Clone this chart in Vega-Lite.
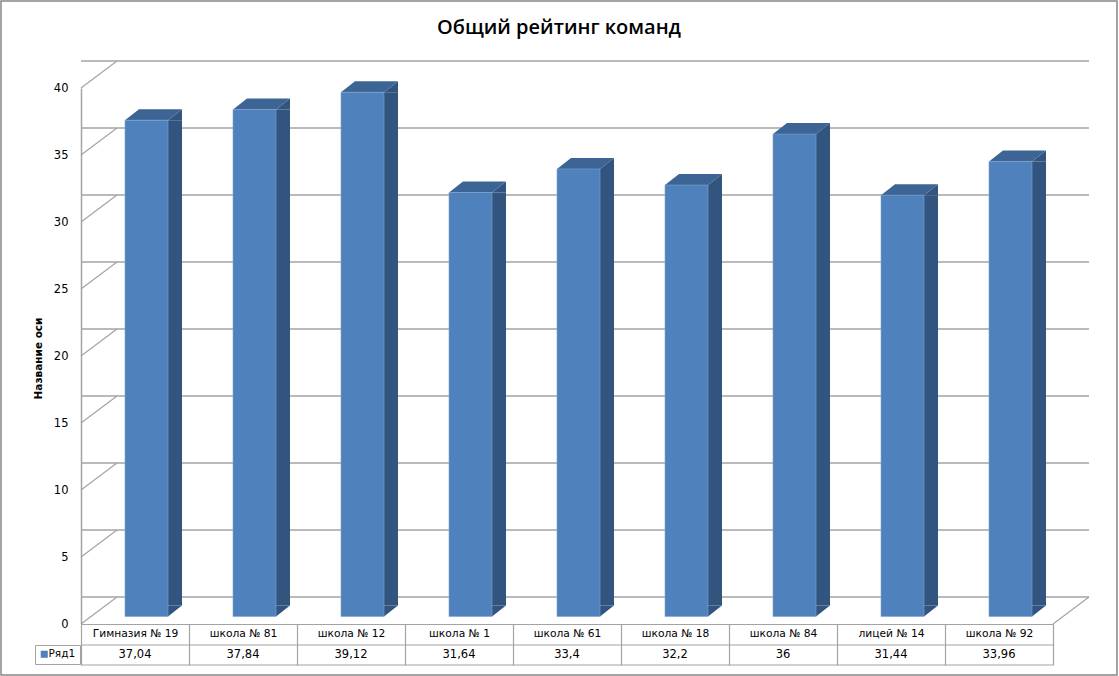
{
"$schema":"https://vega.github.io/schema/vega-lite/v6.json",
"width":972,"height":536,
"autosize":{"type":"none"},
"padding":{"left":81,"top":88,"right":66,"bottom":52},
"background":"white",
"title":{"text":"Общий рейтинг команд","font":"Open Sans","fontSize":20,"fontWeight":600,"color":"#000000","anchor":"middle","frame":"group","dx":-8,"offset":-38},
"config":{"view":{"stroke":null},"locale":{"number":{"decimal":",","thousands":" ","grouping":[3],"currency":["","₽"]}}},
"datasets":{
"teams":[
{"school":"Гимназия № 19","value":37.04,"series":"Ряд1"},
{"school":"школа № 81","value":37.84,"series":"Ряд1"},
{"school":"школа № 12","value":39.12,"series":"Ряд1"},
{"school":"школа № 1","value":31.64,"series":"Ряд1"},
{"school":"школа № 61","value":33.4,"series":"Ряд1"},
{"school":"школа № 18","value":32.2,"series":"Ряд1"},
{"school":"школа № 84","value":36,"series":"Ряд1"},
{"school":"лицей № 14","value":31.44,"series":"Ряд1"},
{"school":"школа № 92","value":33.96,"series":"Ряд1"}],
"ticks":[{"tick":0},{"tick":5},{"tick":10},{"tick":15},{"tick":20},{"tick":25},{"tick":30},{"tick":35},{"tick":40}]
},
"layer":[
{"data":{"values":[{}]},"mark":{"type":"rect","fill":null,"stroke":"#868686","strokeWidth":1.5},
 "encoding":{"x":{"value":-80},"x2":{"value":1036},"y":{"value":-87},"y2":{"value":587}}},
{"data":{"name":"ticks"},"mark":{"type":"rule","color":"#A3A3A3","strokeWidth":1.5,"xOffset":36,"yOffset":-27},
 "encoding":{"y":{"field":"tick","type":"quantitative","scale":{"domain":[0,40],"nice":false},
  "axis":{"title":"Название оси","titleFont":"DejaVu Sans","titleFontSize":10.5,"titleFontWeight":600,"titleColor":"#000000","titlePadding":10,"titleY":270,"values":[0,5,10,15,20,25,30,35,40],"grid":false,"ticks":false,"labelFont":"DejaVu Sans","labelFontSize":11.5,"labelColor":"#000000","labelPadding":13,"domainColor":"#A3A3A3","domainWidth":1.5}}}},
{"data":{"name":"ticks"},"mark":{"type":"point","shape":"M0,0L36,-27","size":4,"filled":false,"opacity":1,"stroke":"#A3A3A3","strokeWidth":1.2},
 "encoding":{"x":{"value":0},"y":{"field":"tick","type":"quantitative"}}},
{"data":{"values":[{}]},"mark":{"type":"point","shape":"M0,0L36,-27","size":4,"filled":false,"opacity":1,"stroke":"#A3A3A3","strokeWidth":1.2},
 "encoding":{"x":{"value":972},"y":{"datum":0,"type":"quantitative"}}},
{"data":{"name":"teams"},"mark":{"type":"bar","size":14,"xOffset":40,"yOffset":-7.5,"color":"#32557F"},
 "encoding":{"x":{"field":"school","type":"nominal","sort":null,"scale":{"type":"band","paddingInner":0,"paddingOuter":0},
  "axis":{"title":null,"orient":"bottom","labelAngle":0,"labelFont":"DejaVu Sans","labelFontSize":10.7,"labelColor":"#000000","labelPadding":-37,"tickBand":"extent","tickExtra":true,"tickSize":41,"tickColor":"#A3A3A3","tickWidth":1.2,"domainColor":"#A3A3A3","domainWidth":1.2,"labelOverlap":false,"labelLimit":0}},
 "y":{"field":"value","type":"quantitative"},"y2":{"datum":1.38}}},
{"data":{"name":"teams"},"mark":{"type":"point","shape":"M21.5,0L35.5,-11L35.5,0Z","size":4,"filled":true,"opacity":1,"xOffset":11.5,"yOffset":-7.5,"color":"#32557F"},
 "encoding":{"x":{"field":"school","type":"nominal","sort":null},"y":{"field":"value","type":"quantitative"}}},
{"data":{"name":"teams"},"mark":{"type":"point","shape":"M21.5,0L21.5,-11L35.5,-11Z","size":4,"filled":true,"opacity":1,"xOffset":11.5,"yOffset":-7.5,"color":"#32557F"},
 "encoding":{"x":{"field":"school","type":"nominal","sort":null},"y":{"datum":0,"type":"quantitative"}}},
{"data":{"name":"teams"},"mark":{"type":"point","shape":"M-21.5,0L21.5,0L35.5,-11L-7.5,-11Z","size":4,"filled":true,"opacity":1,"xOffset":11.5,"yOffset":-7.5,"color":"#3C6494"},
 "encoding":{"x":{"field":"school","type":"nominal","sort":null},"y":{"field":"value","type":"quantitative"}}},
{"data":{"name":"teams"},"mark":{"type":"bar","size":43,"xOffset":11.5,"yOffset":-7.5,"stroke":"#7FA3CF","strokeWidth":0.6},
 "encoding":{
 "x":{"field":"school","type":"nominal","sort":null},
 "y":{"field":"value","type":"quantitative"},
 "color":{"field":"series","type":"nominal","scale":{"range":["#4F81BD"]},
  "legend":{"title":null,"orient":"none","legendX":-46,"legendY":557,"strokeColor":"#A3A3A3","padding":4,"symbolType":"square","symbolSize":50,"symbolStrokeWidth":0,"labelFont":"DejaVu Sans","labelFontSize":10.5,"labelColor":"#000000","labelOffset":-1}}}},
{"data":{"values":[{}]},"mark":{"type":"rule","color":"#A3A3A3","strokeWidth":1.2,"yOffset":21},
 "encoding":{"y":{"datum":0,"type":"quantitative"}}},
{"data":{"values":[{}]},"mark":{"type":"rule","color":"#A3A3A3","strokeWidth":1.2,"yOffset":41},
 "encoding":{"y":{"datum":0,"type":"quantitative"}}},
{"data":{"name":"teams"},"mark":{"type":"text","yOffset":31,"font":"DejaVu Sans","fontSize":11.5,"color":"#000000"},
 "encoding":{"x":{"field":"school","type":"nominal","sort":null},"y":{"datum":0,"type":"quantitative"},"text":{"field":"value","type":"quantitative","format":".4~r"}}}
]
}
